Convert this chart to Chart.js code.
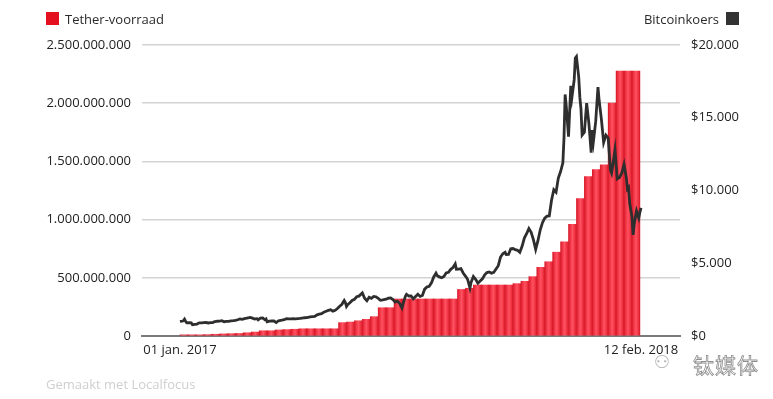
<!DOCTYPE html>
<html>
<head>
<meta charset="utf-8">
<script src="https://cdn.jsdelivr.net/npm/chart.js@4.4.1/dist/chart.umd.min.js"></script>
<style>
  html, body { margin: 0; padding: 0; background: #ffffff; }
  #wrap { position: relative; width: 773px; height: 399px; overflow: hidden; font-family: "Open Sans", "DejaVu Sans", sans-serif; }
  #c { position: absolute; left: 0; top: 0; }
  .leg { position: absolute; top: 10px; font-size: 13px; color: #2a2a2a; line-height: 18px; }
  .sq { position: absolute; top: 12px; width: 13px; height: 13px; }
  #foot { position: absolute; left: 46px; top: 375px; font-size: 13px; color: #cfcfcf; }
  #wm { position: absolute; left: 693px; top: 349px; font-size: 21px; color: #ffffff; -webkit-text-stroke: 0.8px #8f8f8f; font-family: "Noto Sans CJK SC", sans-serif; letter-spacing: 1px; }
  #wmi { position: absolute; left: 654px; top: 351px; font-size: 18px; color: #b5b5b5; font-family: "DejaVu Sans", sans-serif; }
</style>
</head>
<body>
<div id="wrap">
  <canvas id="c" width="773" height="399"></canvas>
  <div class="sq" style="left:46px;background:#e5101f;"></div>
  <div class="leg" style="left:65px;">Tether-voorraad</div>
  <div class="leg" style="right:54px;text-align:right;">Bitcoinkoers</div>
  <div class="sq" style="left:726px;background:#333333;"></div>
  <div id="foot">Gemaakt met Localfocus</div>
  <div id="wmi">&#x2687;</div>
  <div id="wm">钛媒体</div>
</div>
<script>
// ---- data (days counted from 01 jan. 2017) ----
const xTickDays = [0, 407];
const xTickLabels = ['01 jan. 2017', '12 feb. 2018'];

// Tether supply per week (millions), weeks starting 01 jan. 2017
const tetherMillions = [
  10, 10, 10, 12, 15, 18, 20, 22, 28, 34,
  45, 45, 52, 55, 58, 62, 62, 62, 62, 62,
  115, 120, 131, 143, 166, 243, 243, 318, 318, 318,
  318, 318, 318, 318, 318, 400, 410, 438, 438, 438,
  438, 438, 450, 470, 510, 590, 638, 720, 810, 960,
  1180, 1369, 1430, 1470, 2000, 2277, 2277, 2277
];

// Bitcoin price (USD)
const btcDays = [
  0,2,3,4,5,6,8,10,11,13,15,17,19,21,23,25,27,29,30,
  31,33,35,37,39,41,43,45,47,49,51,53,55,57,
  59,61,62,64,66,68,69,71,73,75,76,77,79,81,83,85,87,89,
  90,92,94,96,98,100,102,104,106,108,110,112,115,117,119,
  121,123,125,127,129,131,133,135,137,139,141,143,144,145,146,147,148,150,
  152,154,156,158,161,163,165,167,169,171,173,175,177,179,
  182,184,186,188,190,192,194,196,197,199,200,202,204,206,208,210,
  212,214,216,218,220,222,224,226,227,229,231,233,235,237,239,241,
  243,244,246,248,250,252,254,256,257,259,261,263,265,267,269,271,
  273,275,277,279,281,283,285,287,288,290,292,294,296,298,300,302,
  304,306,308,310,312,314,316,318,320,322,324,326,328,330,332,
  334,336,338,339,340,341,343,345,346,348,349,350,352,353,354,355,357,359,361,363,364,
  365,367,369,370,372,374,376,378,380,381,382,384,386,388,390,392,394,395,
  396,397,399,400,401,403,405,406,407
];
const btcPrices = [
  998,1021,1044,1154,1013,902,911,905,777,805,822,907,897,922,926,895,919,921,970,
  989,1015,1025,1050,981,1003,1005,1035,1051,1075,1117,1178,1149,1193,
  1223,1259,1281,1227,1172,1193,1112,1232,1245,1113,1174,974,1026,1031,1031,925,1047,1079,
  1088,1121,1190,1183,1180,1188,1180,1197,1210,1235,1256,1257,1317,1331,1347,
  1452,1507,1533,1640,1700,1756,1804,1711,1770,1890,2050,2183,2319,2443,2305,2038,2155,2286,
  2444,2518,2700,2740,2960,2590,2420,2660,2590,2720,2690,2590,2460,2480,
  2530,2600,2610,2510,2330,2400,2230,1930,2230,2730,2870,2750,2760,2550,2710,2870,
  2720,2790,3220,3370,3420,3650,4060,4320,4160,4060,4000,4090,4330,4380,4580,4700,
  4950,4590,4600,4630,4330,4120,3880,3300,3690,4090,3900,3630,3780,3930,4210,4360,
  4400,4320,4370,4600,4830,5430,5650,5750,5590,5600,5990,6010,5930,5890,5750,6160,
  6730,7030,7380,7120,6620,5950,6550,7280,7790,8100,8240,8250,9330,10050,9880,
  10860,11300,11900,13600,16600,15800,13700,17200,16400,17600,19100,19200,17800,16400,15600,13800,14000,16000,14600,12600,14150,
  13400,14750,17100,16200,14900,13300,13800,13600,11400,11200,11700,12800,10800,10900,11200,11800,10900,10100,
  10200,9100,8200,6950,7700,8600,8100,8500,8800
];

const leftTicks = [0, 500000000, 1000000000, 1500000000, 2000000000, 2500000000];
const rightTicks = [0, 5000, 10000, 15000, 20000];

// ---- build ----
function dots(n) { return String(Math.round(n)).replace(/\B(?=(\d{3})+(?!\d))/g, '.'); }

const tetherData = tetherMillions.map((v, k) => ({ x: k * 7 + 3.5, y: v * 1e6 }));
const btcData = btcDays.map((d, i) => ({ x: d, y: btcPrices[i] }));

const tickFont = { family: '"Open Sans", "DejaVu Sans", sans-serif', size: 13 };

// per-bar horizontal shading, positioned with the library's own x scale
function barFill(context) {
  const chart = context.chart;
  const xs = chart.scales && chart.scales.x;
  if (!xs || !context.raw || xs.width === undefined) return '#f3414e';
  const x0 = xs.getPixelForValue(context.raw.x - 3.5);
  const x1 = xs.getPixelForValue(context.raw.x + 3.5);
  if (!isFinite(x0) || !isFinite(x1) || x1 <= x0) return '#f3414e';
  const g = chart.ctx.createLinearGradient(x0, 0, x1, 0);
  g.addColorStop(0, '#d81a2a');
  g.addColorStop(0.2, '#ee3242');
  g.addColorStop(0.5, '#ff5262');
  g.addColorStop(0.8, '#ee3242');
  g.addColorStop(1, '#d81a2a');
  return g;
}

new Chart(document.getElementById('c'), {
  data: {
    datasets: [
      {
        type: 'line',
        label: 'Bitcoinkoers',
        data: btcData,
        yAxisID: 'yR',
        xAxisID: 'x',
        borderColor: '#2e2e2e',
        borderWidth: 2.8,
        pointRadius: 0,
        tension: 0,
        order: 0
      },
      {
        type: 'bar',
        label: 'Tether-voorraad',
        data: tetherData,
        yAxisID: 'yL',
        xAxisID: 'x',
        backgroundColor: barFill,
        borderWidth: 0,
        barPercentage: 1,
        categoryPercentage: 1,
        order: 1
      }
    ]
  },
  options: {
    responsive: false,
    animation: false,
    layout: { padding: { top: 45, left: 0, right: 0, bottom: 0 } },
    plugins: { legend: { display: false }, tooltip: { enabled: false } },
    scales: {
      x: {
        type: 'linear',
        offset: false,
        min: -33.5,
        max: 441.4,
        grid: { display: false, drawTicks: false, offset: false },
        border: { display: true, color: '#7a7a7a', width: 2 },
        afterBuildTicks: (s) => { s.ticks = xTickDays.map(v => ({ value: v })); },
        ticks: {
          autoSkip: false,
          maxRotation: 0,
          padding: 6,
          color: '#222',
          font: tickFont,
          callback: (v) => { const i = xTickDays.indexOf(v); return i >= 0 ? xTickLabels[i] : ''; }
        },
        afterFit: (s) => { s.height = 63; }
      },
      yL: {
        position: 'left',
        min: 0,
        max: 2500000000,
        afterBuildTicks: (s) => { s.ticks = leftTicks.map(v => ({ value: v })); },
        grid: { color: '#d3d3d3', lineWidth: 1.6, drawTicks: false },
        border: { display: false },
        ticks: { padding: 11, color: '#222', font: tickFont, callback: (v) => dots(v) },
        afterFit: (s) => { s.width = 142; }
      },
      yR: {
        position: 'right',
        min: 0,
        max: 20000,
        afterBuildTicks: (s) => { s.ticks = rightTicks.map(v => ({ value: v })); },
        grid: { display: false, drawTicks: false },
        border: { display: false },
        ticks: { padding: 11, color: '#222', font: tickFont, callback: (v) => '$' + dots(v) },
        afterFit: (s) => { s.width = 93; }
      }
    }
  }
});
</script>
</body>
</html>
